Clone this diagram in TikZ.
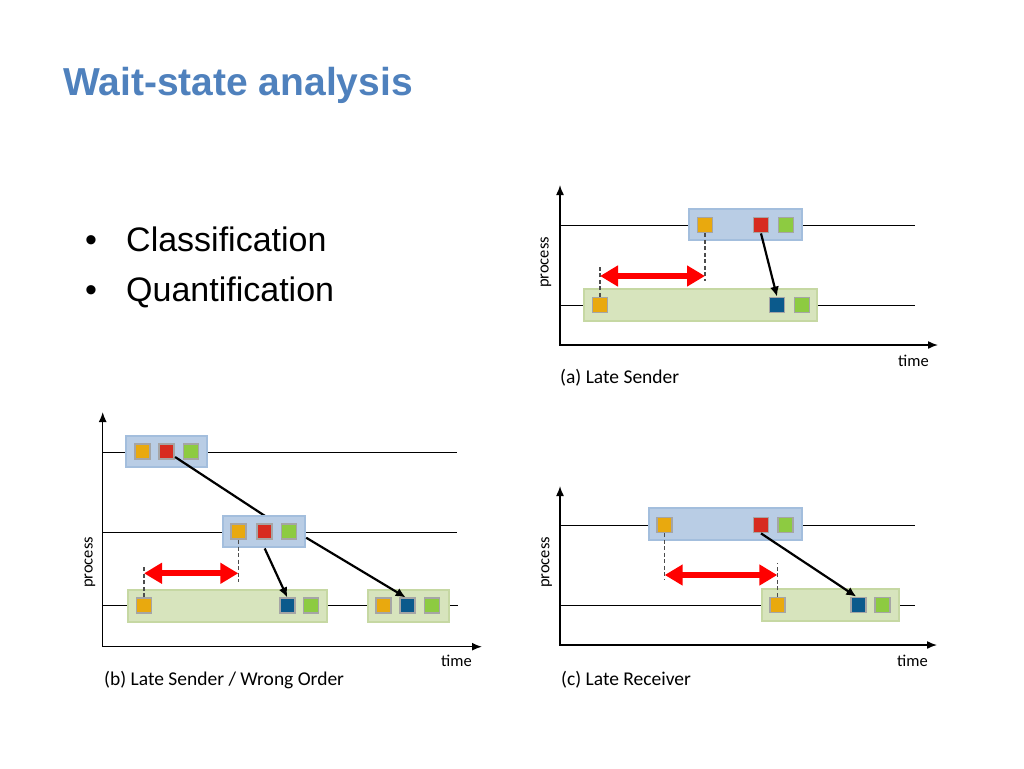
\documentclass[tikz,border=0pt]{standalone}
\usepackage{fontspec}
\setmainfont{Carlito}
\newfontfamily\slidefont{Liberation Sans}
\usetikzlibrary{arrows.meta}

\definecolor{titleblue}{HTML}{4F81BD}
\definecolor{boxblue}{HTML}{B9CDE5}
\definecolor{boxblueline}{HTML}{A3BEDD}
\definecolor{boxgreen}{HTML}{D7E4BD}
\definecolor{boxgreenline}{HTML}{C6D8A3}
\definecolor{evorange}{HTML}{E9A90E}
\definecolor{evred}{HTML}{D72B1F}
\definecolor{evgreen}{HTML}{8DCB41}
\definecolor{evdark}{HTML}{0B5A8C}
\definecolor{evgray}{HTML}{A5A5A5}

\tikzset{
  timeaxis/.style={line width=1.5pt, {Latex[length=10pt,width=8pt]}-{Latex[length=10pt,width=8pt]}},
  procline/.style={line width=1pt},
  sendbox/.style={draw=boxblueline, fill=boxblue, line width=2pt, minimum height=31.5pt, inner sep=0pt},
  recvbox/.style={draw=boxgreenline, fill=boxgreen, line width=2pt, minimum height=31.5pt, inner sep=0pt},
  ev/.style={draw=evgray, line width=1.8pt, minimum size=15pt, inner sep=0pt},
  guide/.style={dash pattern=on 4pt off 2.5pt, line width=1.2pt, black!70},
  wait/.style={red, line width=6pt, {Triangle[length=18pt,width=20pt]}-{Triangle[length=18pt,width=20pt]}},
  msg/.style={line width=2.2pt, -{Latex[length=10pt,width=9pt]}},
  axislabel/.style={font=\fontsize{16.5}{20}\selectfont, inner sep=0pt},
  caption/.style={font=\fontsize{19.5}{23}\selectfont, anchor=base west, inner sep=0pt},
  slidetext/.style={font=\slidefont\fontsize{34}{41}\selectfont, anchor=base west, inner sep=0pt}
}

\begin{document}
\begin{tikzpicture}[x=1pt,y=-1pt]
  \useasboundingbox (0,0) rectangle (1024,768);

  \node[anchor=base west, inner sep=0pt, text=titleblue, font=\slidefont\bfseries\fontsize{39}{47}\selectfont] (title) at (63,95) {Wait-state analysis};
  \node[slidetext] (dot1) at (85,251) {•};
  \node[slidetext] (item1) at (126,251) {Classification};
  \node[slidetext] (dot2) at (85,301) {•};
  \node[slidetext] (item2) at (126,301) {Quantification};

  % (a) late sender
  \draw[timeaxis] (560,185) -- (560,345) -- (938,345);
  \draw[procline] (560,225) -- (915,225);
  \draw[procline] (560,305) -- (915,305);

  \node[sendbox, minimum width=113pt] (asend) at (745.5,224.5) {};
  \node[recvbox, minimum width=233pt] (arecv) at (700.5,305) {};
  \node[ev, fill=evorange] (ao1) at (705,225) {};
  \node[ev, fill=evred] (ar1) at (761,225) {};
  \node[ev, fill=evgreen] (ag1) at (786,225) {};
  \node[ev, fill=evorange] (ao2) at (600,305) {};
  \node[ev, fill=evdark] (ad2) at (777,305) {};
  \node[ev, fill=evgreen] (ag2) at (802,305) {};

  \coordinate (await) at (0,276);
  \coordinate (alow) at (0,281);
  \coordinate (ahigh) at (0,265);
  \draw[guide] (ao1.south) -- (ao1.south |- alow);
  \draw[guide] (ao2.north) -- (ao2.north |- ahigh);
  \draw[wait] (ao2 |- await) -- (ao1 |- await);
  \draw[msg] (ar1.south) -- (ad2.north);

  \node[axislabel, rotate=90] (aproc) at (546,262.5) {process};
  \node[axislabel, anchor=base west] (atime) at (898,366) {time};
  \node[caption] (acap) at (560,383) {(a) Late Sender};

  % (b) late sender / wrong order
  \draw[timeaxis] (102.7,412) -- (102.7,646.7) -- (482,646.7);
  \draw[procline] (102.7,452) -- (457,452);
  \draw[procline] (102.7,532.5) -- (457,532.5);
  \draw[procline] (102.7,605.7) -- (458,605.7);

  \node[sendbox, minimum width=81pt] (bsend1) at (166.4,451.3) {};
  \node[ev, fill=evorange] (bo1) at (142.7,451.5) {};
  \node[ev, fill=evred] (br1) at (166.7,451.5) {};
  \node[ev, fill=evgreen] (bg1) at (191,451.5) {};

  \coordinate (b2g) at (289,531.7);
  \draw[msg] (br1) -- (b2g);

  \node[sendbox, minimum width=82pt] (bsend2) at (264.2,531.7) {};
  \node[ev, fill=evorange] (bo2) at (238.3,531.7) {};
  \node[ev, fill=evred] (br2) at (264.7,531.7) {};
  \node[ev, fill=evgreen] (bg2) at (b2g) {};

  \node[recvbox, minimum width=199pt] (brecv1) at (227.8,605.8) {};
  \node[ev, fill=evorange] (bo3) at (144,605.8) {};
  \node[ev, fill=evdark] (bd1) at (287.3,605.8) {};
  \node[ev, fill=evgreen] (bg3) at (311,605.8) {};

  \node[recvbox, minimum width=81pt] (brecv2) at (408.7,605.8) {};
  \node[ev, fill=evorange] (bo4) at (383.7,605.8) {};
  \node[ev, fill=evdark] (bd2) at (407.7,605.8) {};
  \node[ev, fill=evgreen] (bg4) at (432,605.8) {};

  \coordinate (bwait) at (0,573.3);
  \coordinate (blow) at (0,582);
  \coordinate (bhigh) at (0,565.7);
  \draw[guide] (bo2.south) -- (bo2.south |- blow);
  \draw[guide] (bo3.north) -- (bo3.north |- bhigh);
  \draw[wait] (bo3 |- bwait) -- (bo2 |- bwait);
  \draw[msg] (br2 |- bsend2.south) -- (bd1.north);
  \draw[msg] ([yshift=-6pt]bsend2.east) -- ([xshift=-2pt]bd2.north);

  \node[axislabel, rotate=90] (bproc) at (90,562.5) {process};
  \node[axislabel, anchor=base west] (btime) at (441,666.5) {time};
  \node[caption] (bcap) at (104,685) {(b) Late Sender / Wrong Order};

  % (c) late receiver
  \draw[timeaxis] (560,486) -- (560,645) -- (937,645);
  \draw[procline] (560,525) -- (915,525);
  \draw[procline] (560,605.7) -- (915,605.7);

  \node[sendbox, minimum width=153pt] (csend) at (725.2,524.2) {};
  \node[recvbox, minimum width=137pt] (crecv) at (830,605) {};
  \node[ev, fill=evorange] (co1) at (664.7,525) {};
  \node[ev, fill=evred] (cr1) at (761,525) {};
  \node[ev, fill=evgreen] (cg1) at (785.3,525) {};
  \node[ev, fill=evorange] (co2) at (777.3,605) {};
  \node[ev, fill=evdark] (cd2) at (858.3,605) {};
  \node[ev, fill=evgreen] (cg2) at (882.3,605) {};

  \coordinate (cwait) at (0,575);
  \coordinate (clow) at (0,580);
  \coordinate (chigh) at (0,563);
  \draw[guide] (co1.south) -- (co1.south |- clow);
  \draw[guide] (co2.north) -- (co2.north |- chigh);
  \draw[wait] (co1 |- cwait) -- (co2 |- cwait);
  \draw[msg] (cr1.south) -- ([xshift=-2pt]cd2.north);

  \node[axislabel, rotate=90] (cproc) at (546.7,562.5) {process};
  \node[axislabel, anchor=base west] (ctime) at (897,666) {time};
  \node[caption] (ccap) at (561,685) {(c) Late Receiver};
\end{tikzpicture}
\end{document}
